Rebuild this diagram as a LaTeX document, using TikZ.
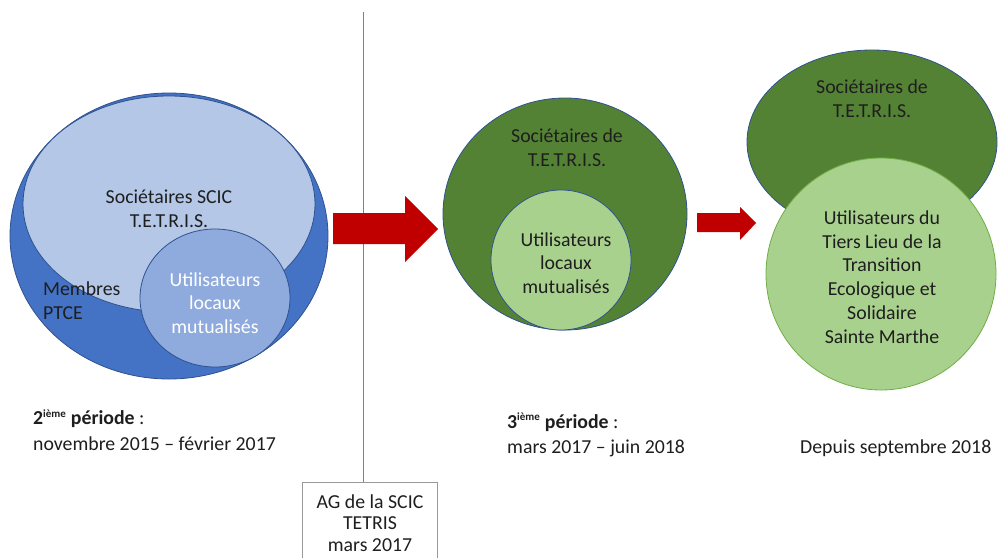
\documentclass[tikz,border=0pt]{standalone}
\usepackage{fontspec}
\setmainfont{Carlito}
\usepackage{tikz}
\usetikzlibrary{calc, positioning}
\definecolor{bleuPTCE}{HTML}{4472C4}
\definecolor{bleuSCIC}{HTML}{B4C7E7}
\definecolor{bleuLocaux}{HTML}{8FAADC}
\definecolor{vertTetris}{HTML}{548235}
\definecolor{vertClair}{HTML}{A9D18E}
\definecolor{bordBleu}{HTML}{2F528F}
\definecolor{bordVert}{HTML}{70AD47}
\definecolor{rougeFleche}{HTML}{C00000}
\definecolor{texte}{HTML}{1E1E1E}
\newcommand{\txt}{\fontsize{19.8}{23.8}\selectfont}
\newcommand{\ieme}{\textsuperscript{\fontsize{11}{11}\selectfont ième}}
\tikzset{
  cercle/.style={draw=bordBleu, line width=0.8pt},
  etiquette/.style={align=center, font=\txt, text=texte, inner sep=0pt},
  periode/.style={align=left, font=\txt, text=texte, inner sep=0pt, anchor=west},
  agbox/.style={draw=gray!80, line width=0.8pt, align=center,
                font=\fontsize{19.8}{21.6}\selectfont, text=texte,
                minimum width=135pt, inner xsep=4pt, inner ysep=12pt, anchor=north},
  fleche/.style={fill=rougeFleche}
}

\begin{document}
\begin{tikzpicture}[x=1pt, y=-1pt]
    \useasboundingbox (0,0) rectangle (998,557);

    % 2eme periode
    \coordinate (ptce) at (169,236);
    \coordinate (scic) at (169,204);
    \coordinate (loc1) at (215,298);
    \draw[cercle, fill=bleuPTCE] (ptce) ellipse (159 and 143);
    \draw[cercle, fill=bleuSCIC] (scic) ellipse (146 and 108);
    \draw[cercle, fill=bleuLocaux] (loc1) ellipse (75 and 69);
    \node[etiquette] (socScic) at (169,209) {Sociétaires SCIC\\T.E.T.R.I.S.};
    \node[periode] (membres) at (43,301) {Membres\\PTCE};
    \node[etiquette, text=white] (util1) at (215,303) {Utilisateurs\\locaux\\mutualisés};

    % separation AG
    \coordinate (haut) at (363,12);
    \node[agbox] (ag) at (370,482) {AG de la SCIC\\TETRIS\\mars 2017};
    \draw[gray, line width=0.7pt] (haut) -- (haut |- ag.north);

    % fleche 1
    \fill[fleche] (333,213) -- (405,213) -- (405,196) -- (438,229) -- (405,262) -- (405,244) -- (333,244) -- cycle;

    % 3eme periode
    \coordinate (tet2) at (565,214);
    \coordinate (loc2) at (561,260);
    \draw[cercle, fill=vertTetris] (tet2) ellipse (122 and 116);
    \draw[cercle, fill=vertClair] (loc2) ellipse (70 and 70);
    \node[etiquette] (socTet2) at (567,148) {Sociétaires de\\T.E.T.R.I.S.};
    \node[etiquette] (util2) at (566,263) {Utilisateurs\\locaux\\mutualisés};

    % fleche 2
    \fill[fleche] (697,213) -- (740,213) -- (740,207) -- (756,223) -- (740,240) -- (740,232) -- (697,232) -- cycle;

    % depuis septembre 2018
    \coordinate (tet3) at (872,142);
    \coordinate (lieu) at (881,274);
    \draw[cercle, fill=vertTetris] (tet3) ellipse (125 and 92);
    \draw[draw=bordVert, line width=0.8pt, fill=vertClair] (lieu) ellipse (115 and 116);
    \node[etiquette] (socTet3) at (872,99) {Sociétaires de\\T.E.T.R.I.S.};
    \node[etiquette] (util3) at (882,277) {Utilisateurs du\\Tiers Lieu de la\\Transition\\Ecologique et\\Solidaire\\Sainte Marthe};

    % periodes
    \node[periode] (p2) at (33,430) {\textbf{2\ieme{} période} :\\[2pt]novembre 2015 -- février 2017};
    \node[periode] (p3) at (507,435) {\textbf{3\ieme{} période} :\\[2pt]mars 2017 -- juin 2018};
    \node[periode] (p4) at (800,448) {Depuis septembre 2018};
\end{tikzpicture}
\end{document}
